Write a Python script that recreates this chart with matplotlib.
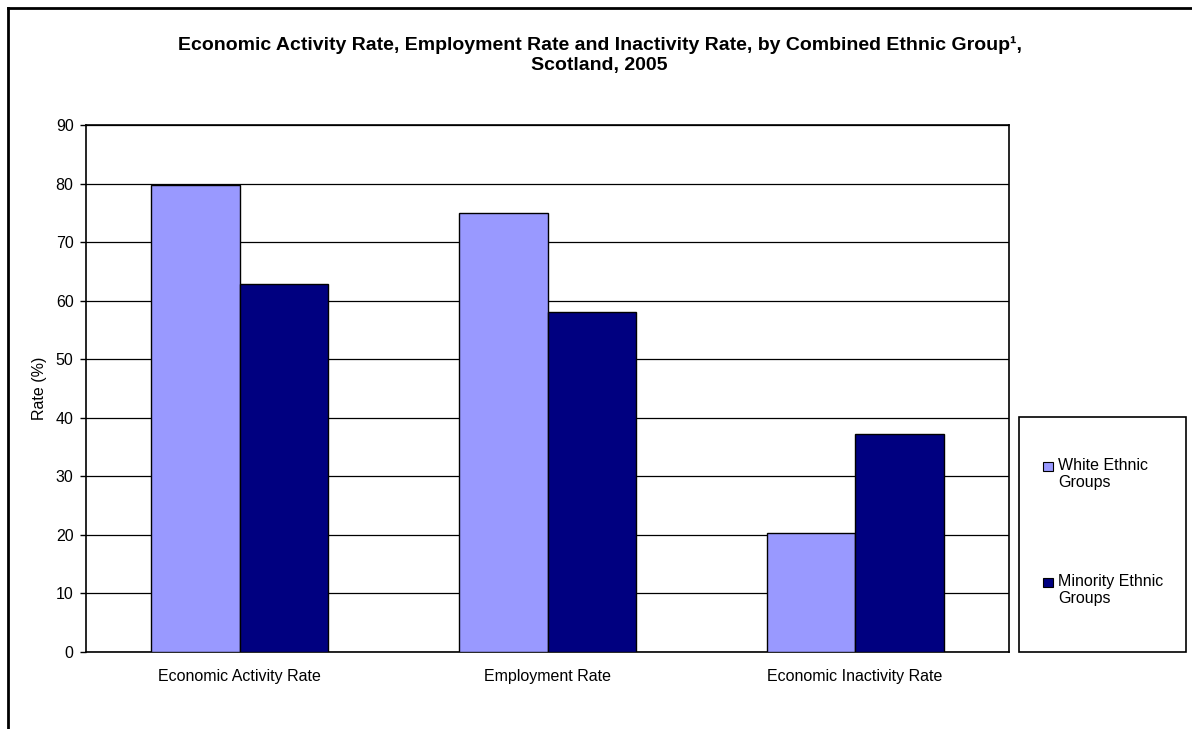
import numpy as np
import matplotlib.pyplot as plt
from matplotlib.patches import Rectangle
from matplotlib.lines import Line2D

plt.rcParams['font.family'] = ['Liberation Sans', 'DejaVu Sans']

categories = ['Economic Activity Rate', 'Employment Rate', 'Economic Inactivity Rate']
white = [79.7, 75.0, 20.3]
minority = [62.8, 58.0, 37.2]
series_names = ['White Ethnic\nGroups', 'Minority Ethnic\nGroups']
colors = ['#9999FF', '#000080']

W, H = 1192, 729
fig = plt.figure(figsize=(W / 100, H / 100), dpi=100)
ax = fig.add_axes([86 / W, 1 - 652 / H, 923 / W, 527 / H])

x = np.arange(len(categories))
w = 0.288
ax.bar(x - w / 2, white, w, color=colors[0], edgecolor='black', linewidth=1, zorder=3)
ax.bar(x + w / 2, minority, w, color=colors[1], edgecolor='black', linewidth=1, zorder=3)

ax.set_xlim(-0.5, 2.5)
ax.set_ylim(0, 90)
ax.set_yticks(range(0, 91, 10))
ax.set_xticks(x)
ax.set_xticklabels(categories, fontsize=11.5)
ax.tick_params(axis='x', length=0, pad=12)
ax.tick_params(axis='y', length=4, width=1, labelsize=11.5, pad=5)
ax.grid(axis='y', color='black', linewidth=0.9, zorder=0)
for s in ax.spines.values():
    s.set_linewidth(1.2)
ax.set_ylabel('Rate (%)', fontsize=11.5, labelpad=6)

fig.text(0.503, 1 - 55 / H,
         'Economic Activity Rate, Employment Rate and Inactivity Rate, by Combined Ethnic Group\u00b9,\nScotland, 2005',
         ha='center', va='center', fontsize=14, fontweight='bold', linespacing=1.25)

# legend box
fig.patches.append(Rectangle((1019 / W, 1 - 652 / H), 167 / W, 235 / H,
                             transform=fig.transFigure, facecolor='white',
                             edgecolor='black', linewidth=1.2))
for (name, c, ytop) in zip(series_names, colors, [462, 578]):
    fig.patches.append(Rectangle((1043 / W, 1 - (ytop + 9) / H), 10 / W, 9 / H,
                                 transform=fig.transFigure, facecolor=c,
                                 edgecolor='black', linewidth=0.8))
    fig.text(1058 / W, 1 - (ytop - 4) / H, name, ha='left', va='top',
             fontsize=11.5, linespacing=1.15)

# outer frame (top and left edges)
fig.lines.append(Line2D([8 / W, 1], [1 - 8 / H, 1 - 8 / H],
                        transform=fig.transFigure, color='black', linewidth=2))
fig.lines.append(Line2D([8 / W, 8 / W], [0, 1 - 8 / H],
                        transform=fig.transFigure, color='black', linewidth=2))

fig.savefig('out.png', dpi=100)
